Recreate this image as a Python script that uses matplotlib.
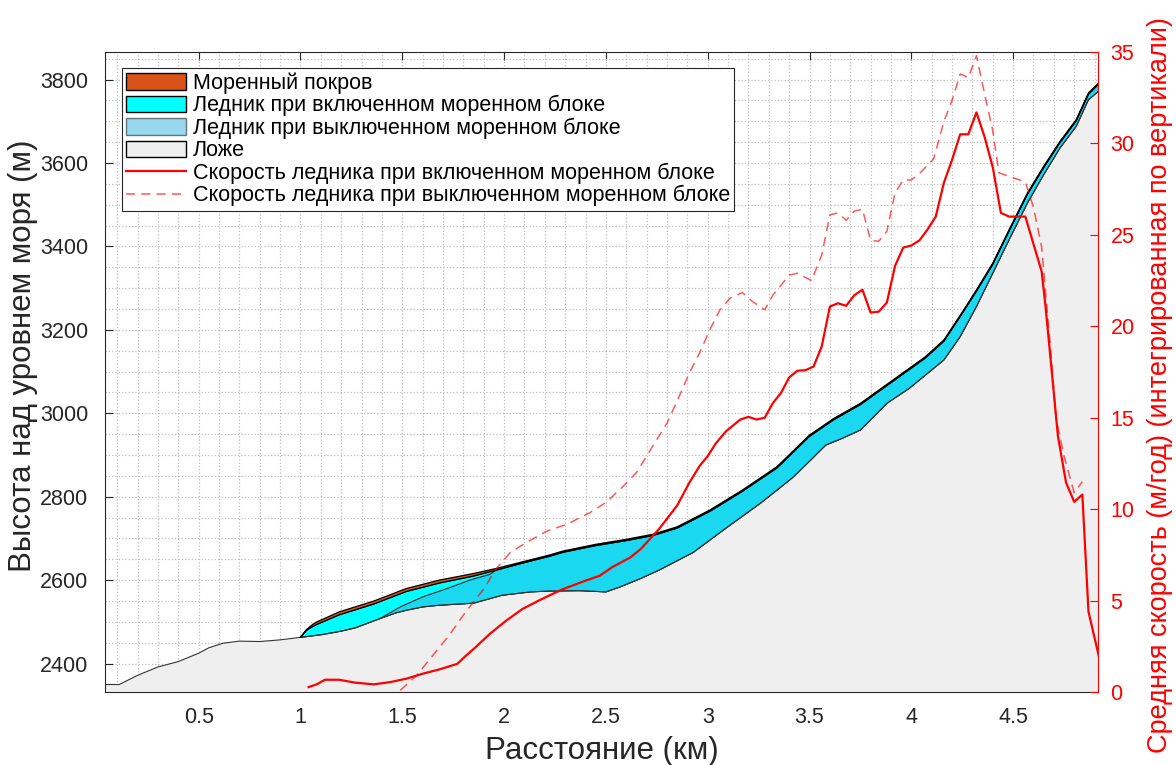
import matplotlib
matplotlib.use("Agg")
import matplotlib.pyplot as plt
import numpy as np
from matplotlib.patches import Patch
from matplotlib.lines import Line2D
from matplotlib.ticker import MultipleLocator

plt.rcParams['font.family'] = ['Liberation Sans', 'DejaVu Sans']

# ложе (рельеф под ледником), км / м
x_bed = [0.04, 0.11, 0.2, 0.3, 0.4, 0.5, 0.55, 0.62, 0.7, 0.8, 0.9, 1.0, 1.11, 1.2, 1.27,
         1.39, 1.47, 1.52, 1.6, 1.68, 1.85, 1.99, 2.13, 2.22, 2.37, 2.5, 2.57, 2.6, 2.67,
         2.76, 2.93, 3.09, 3.26, 3.42, 3.52, 3.58, 3.66, 3.75, 3.88, 3.99, 4.16, 4.24, 4.32,
         4.40, 4.48, 4.57, 4.65, 4.73, 4.81, 4.87, 4.92]
z_bed = [2350, 2350, 2372, 2392, 2405, 2425, 2438, 2449, 2454, 2453, 2457, 2463, 2470, 2478, 2486,
         2508, 2522, 2528, 2536, 2540, 2545, 2564, 2572, 2574, 2575, 2572, 2584, 2590, 2604,
         2624, 2667, 2725, 2785, 2847, 2895, 2924, 2940, 2960, 3024, 3060, 3128, 3184, 3256,
         3336, 3416, 3504, 3572, 3636, 3688, 3752, 3772]

# поверхность ледника (с мореной) и толщина моренного покрова
x_top = [1.00, 1.03, 1.06, 1.08, 1.19, 1.36, 1.52, 1.68, 1.85, 1.96, 2.09, 2.22, 2.29, 2.45,
         2.60, 2.73, 2.85, 3.01, 3.17, 3.34, 3.50, 3.62, 3.75, 3.91, 4.07, 4.16, 4.24, 4.32,
         4.40, 4.48, 4.57, 4.65, 4.73, 4.81, 4.87, 4.92]
z_top = [2463, 2482, 2494, 2500, 2524, 2550, 2580, 2600, 2616, 2628, 2644, 2660, 2670, 2686,
         2698, 2710, 2728, 2768, 2816, 2872, 2948, 2988, 3024, 3080, 3136, 3176, 3235, 3296,
         3360, 3440, 3528, 3592, 3652, 3704, 3768, 3792]
h_moraine = [0, 2, 5, 6, 7, 7, 7, 7, 6, 4, 3, 3, 3, 3,
             3, 3, 3, 3, 3, 3, 3, 3, 3, 3, 3, 3, 3, 3,
             3, 3, 3, 3, 3, 3, 3, 3]

# фронт ледника при выключенном моренном блоке (дальше совпадает с поверхностью льда)
x_off_front = [1.39, 1.49, 1.60, 1.72, 1.83, 1.93]
z_off_front = [2508, 2536, 2560, 2580, 2600, 2614]

# средняя скорость, м/год
x_v_on = [1.04, 1.08, 1.12, 1.19, 1.27, 1.36, 1.44, 1.52, 1.60, 1.68, 1.77, 1.81, 1.86, 1.93,
          2.01, 2.09, 2.17, 2.22, 2.29, 2.40, 2.47, 2.53, 2.62, 2.67, 2.76, 2.85, 2.91, 2.96,
          3.00, 3.04, 3.09, 3.16, 3.20, 3.24, 3.28, 3.32, 3.36, 3.40, 3.44, 3.48, 3.52, 3.56,
          3.60, 3.64, 3.68, 3.72, 3.76, 3.80, 3.84, 3.88, 3.92, 3.96, 4.00, 4.04, 4.08, 4.12,
          4.16, 4.20, 4.24, 4.28, 4.32, 4.36, 4.40, 4.44, 4.48, 4.56, 4.60, 4.64, 4.66, 4.69,
          4.72, 4.76, 4.80, 4.84, 4.87, 4.92]
v_on = [0.27, 0.42, 0.67, 0.67, 0.51, 0.42, 0.54, 0.73, 1.0, 1.23, 1.54, 1.96, 2.45, 3.18,
        3.9, 4.54, 5.0, 5.27, 5.63, 6.09, 6.36, 6.82, 7.36, 7.81, 8.9, 10.2, 11.45, 12.36,
        12.9, 13.6, 14.26, 14.9, 15.05, 14.9, 15.0, 15.8, 16.36, 17.2, 17.57, 17.6, 17.8, 18.9,
        21.08, 21.26, 21.12, 21.7, 22.0, 20.75, 20.8, 21.3, 23.3, 24.3, 24.42, 24.7, 25.3, 26.0,
        27.85, 29.1, 30.5, 30.5, 31.7, 30.35, 28.7, 26.2, 26.0, 26.0, 24.5, 23.0, 21.0, 17.5,
        14.0, 11.45, 10.4, 10.8, 4.4, 2.0]

x_v_off = [1.49, 1.57, 1.65, 1.73, 1.81, 1.90, 1.96, 2.03, 2.11, 2.21, 2.31, 2.42, 2.50, 2.58,
           2.65, 2.73, 2.80, 2.86, 2.91, 2.96, 3.01, 3.06, 3.11, 3.17, 3.22, 3.28, 3.32, 3.40,
           3.44, 3.51, 3.56, 3.60, 3.64, 3.68, 3.72, 3.76, 3.80, 3.84, 3.88, 3.92, 3.96, 4.00,
           4.04, 4.11, 4.16, 4.20, 4.24, 4.28, 4.32, 4.36, 4.40, 4.43, 4.48, 4.56, 4.60, 4.64,
           4.66, 4.69, 4.71, 4.75, 4.80, 4.84]
v_off = [0.09, 0.9, 2.0, 3.1, 4.36, 5.63, 6.72, 7.63, 8.18, 8.8, 9.18, 9.8, 10.36, 11.2,
         12.0, 13.45, 14.7, 16.17, 17.45, 18.54, 19.8, 20.9, 21.54, 21.85, 21.35, 20.9, 21.7, 22.8,
         22.9, 22.5, 23.9, 26.1, 26.2, 25.8, 26.3, 26.4, 24.7, 24.65, 25.2, 27.3, 28.0, 28.0,
         28.35, 29.17, 31.2, 32.35, 33.8, 33.6, 34.8, 32.7, 30.7, 28.4, 28.2, 27.9, 26.5, 24.35,
         21.8, 18.0, 15.0, 12.9, 10.9, 11.5]

x_ticks = [0.5, 1, 1.5, 2, 2.5, 3, 3.5, 4, 4.5]
x_ticklabels = ['0.5', '1', '1.5', '2', '2.5', '3', '3.5', '4', '4.5']
y_ticks = [2400, 2600, 2800, 3000, 3200, 3400, 3600, 3800]
v_ticks = [0, 5, 10, 15, 20, 25, 30, 35]

c_moraine = '#D95319'
c_on = '#00FFFF'
c_off = (0.2, 0.7, 0.88)
c_bed = '#EFEFEF'
axis_col = '#262626'

x_bed = np.array(x_bed)
z_bed = np.array(z_bed)
x_top = np.array(x_top)
z_top = np.array(z_top)
z_ice = z_top - np.array(h_moraine)

fig = plt.figure(figsize=(11.76, 7.65), dpi=100)
ax = fig.add_axes([0.0893, 0.0954, 0.8444, 0.8366])
ax.set_axisbelow(True)

# ложе
ax.fill_between(x_bed, 2200, z_bed, color=c_bed, lw=0, zorder=1)
ax.plot(x_bed, z_bed, color='#333333', lw=0.8, zorder=1.5)

# ледник при включенном моренном блоке
m = x_bed >= 1.0
poly_x = np.concatenate([x_top, x_bed[m][::-1]])
poly_y = np.concatenate([z_ice, z_bed[m][::-1]])
ax.fill(poly_x, poly_y, facecolor=c_on, edgecolor='#222222', lw=0.8, zorder=2)

# ледник при выключенном моренном блоке
k = x_top >= 1.96
m2 = x_bed >= 1.39
poly_x = np.concatenate([x_off_front, x_top[k], x_bed[m2][::-1]])
poly_y = np.concatenate([z_off_front, z_ice[k], z_bed[m2][::-1]])
ax.fill(poly_x, poly_y, facecolor=c_off, alpha=0.5, edgecolor='none', zorder=3)
ax.plot(np.concatenate([x_off_front, x_top[k]]), np.concatenate([z_off_front, z_ice[k]]),
        color='#222222', lw=0.8, zorder=3.5)
ax.plot(x_bed[m], z_bed[m], color='#333333', lw=0.8, zorder=3.5)

# моренный покров
ax.fill(np.concatenate([x_top, x_top[::-1]]), np.concatenate([z_top, z_ice[::-1]]),
        facecolor=c_moraine, edgecolor='black', lw=0.9, zorder=4)

ax.set_xlim(0.04, 4.917)
ax.set_ylim(2332, 3866)
ax.set_xticks(x_ticks)
ax.set_xticklabels(x_ticklabels)
ax.set_yticks(y_ticks)
ax.xaxis.set_minor_locator(MultipleLocator(0.1))
ax.yaxis.set_minor_locator(MultipleLocator(50))
ax.grid(which='both', linestyle=':', color='#bdbdbd', lw=0.9)
ax.tick_params(which='major', direction='in', length=6, width=0.8, top=True,
               labelsize=15.5, colors=axis_col)
ax.tick_params(axis='y', which='major', pad=12)
ax.tick_params(axis='x', which='major', pad=11)
ax.tick_params(which='minor', length=0)
for s in ['left', 'bottom', 'top']:
    ax.spines[s].set_color(axis_col)
    ax.spines[s].set_linewidth(0.8)
ax.spines['right'].set_visible(False)
ax.set_xlabel('Расстояние (км)', fontsize=22.5, color=axis_col)
ax.xaxis.set_label_coords(0.5, -0.068)
ax.set_ylabel('Высота над уровнем моря (м)', fontsize=22.5, color=axis_col)
ax.yaxis.set_label_coords(-0.067, 0.525)

# скорости на правой оси
ax2 = ax.twinx()
ax2.plot(x_v_on, v_on, color='red', lw=1.6, zorder=5)
ax2.plot(x_v_off, v_off, color='red', lw=1.1, alpha=0.65, dashes=(6, 4), zorder=5)
ax2.set_ylim(0, 35)
ax2.set_yticks(v_ticks)
ax2.tick_params(direction='in', length=6, width=0.8, colors='red', labelsize=15.5, pad=9)
ax2.spines['right'].set_color('red')
ax2.spines['right'].set_linewidth(0.8)
for s in ['left', 'bottom', 'top']:
    ax2.spines[s].set_visible(False)
ax2.set_ylabel('Средняя скорость (м/год) (интегрированная по вертикали)', fontsize=19.5,
               color='red')
ax2.yaxis.set_label_coords(1.049, 0.48)

handles = [
    Patch(facecolor=c_moraine, edgecolor='black'),
    Patch(facecolor=c_on, edgecolor='black'),
    Patch(facecolor=c_off, alpha=0.5, edgecolor='black'),
    Patch(facecolor=c_bed, edgecolor='black'),
    Line2D([], [], color='red', lw=1.6),
    Line2D([], [], color='red', lw=1.1, alpha=0.65, dashes=(6, 4)),
]
labels = ['Моренный покров',
          'Ледник при включенном моренном блоке',
          'Ледник при выключенном моренном блоке',
          'Ложе',
          'Скорость ледника при включенном моренном блоке',
          'Скорость ледника при выключенном моренном блоке']
leg = ax2.legend(handles, labels, loc='upper left', bbox_to_anchor=(0.017, 0.975),
                 borderaxespad=0, fontsize=15.5, fancybox=False, framealpha=1,
                 edgecolor=axis_col, handlelength=2.8, handleheight=0.8,
                 handletextpad=0.3, labelspacing=0.06, borderpad=0.2)
leg.get_frame().set_linewidth(0.8)

fig.savefig('out.png', dpi=100)
